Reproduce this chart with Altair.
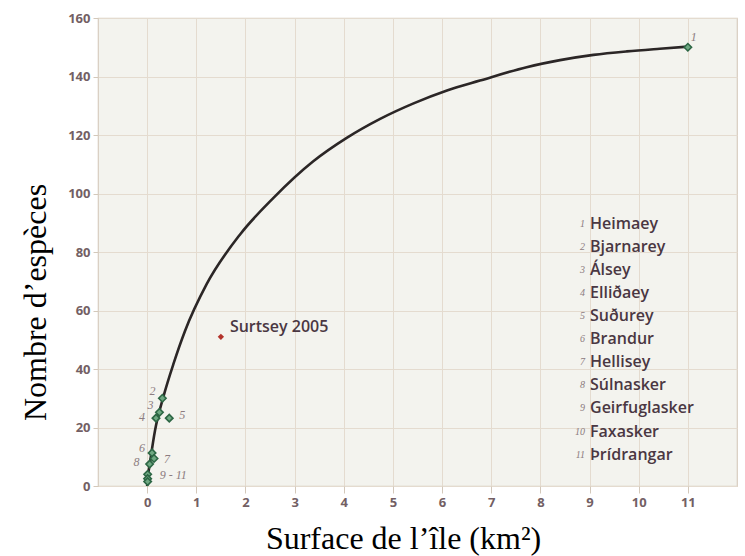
import altair as alt
import pandas as pd

# ---- data ----
island_num = [1, 2, 3, 4, 5, 6, 7, 8, 9, 10, 11]
island_names = ["Heimaey", "Bjarnarey", "Álsey", "Elliðaey", "Suðurey", "Brandur",
                "Hellisey", "Súlnasker", "Geirfuglasker", "Faxasker", "Þrídrangar"]
island_area = [11.0, 0.31, 0.25, 0.18, 0.45, 0.10, 0.14, 0.05, 0.01, 0.01, 0.01]
island_species = [150, 30, 25.2, 23.2, 23.2, 11.3, 9.4, 7.5, 4.0, 2.5, 1.5]

curve_x = [0, 0.01, 0.075, 0.16, 0.33, 0.54, 0.77, 1.21, 1.89, 2.57, 3.38,
           4.06, 4.74, 5.42, 6.1, 6.77, 7.72, 8.4, 9.08, 9.76, 10.43, 11.0]
curve_y = [0, 2, 10, 19, 30.5, 42, 53, 69, 86, 98.5, 111,
           119, 125.5, 130.8, 135.2, 138.6, 143.2, 145.6, 147.4, 148.6, 149.5, 150.2]

surtsey_area = [1.5]
surtsey_species = [51]
surtsey_label = ["Surtsey 2005"]

point_label_text = ["1", "2", "3", "4", "5", "6", "7", "8", "9 - 11"]

x_ticks = list(range(0, 12))
y_ticks = list(range(0, 161, 20))

# ---- styling ----
W, H = 639, 468
xs = alt.Scale(domain=[-1, 12], nice=False, zero=False)
ys = alt.Scale(domain=[0, 160], nice=False, zero=False)
label_color = "#735f64"
text_color = "#4a3742"
sans = "Open Sans"

islands = pd.DataFrame({"num": island_num, "name": island_names,
                        "area": island_area, "species": island_species})
curve = pd.DataFrame({"area": curve_x, "species": curve_y})
surtsey = pd.DataFrame({"area": surtsey_area, "species": surtsey_species,
                        "label": surtsey_label})

X = alt.X("area:Q", scale=xs, title="Surface de l’île (km²)",
          axis=alt.Axis(values=x_ticks, grid=True, domain=False, tickSize=7,
                        labelPadding=3, titleX=305, titleY=52,
                        titleAlign="center", titleBaseline="middle"))
Y = alt.Y("species:Q", scale=ys, title="Nombre d’espèces",
          axis=alt.Axis(values=y_ticks, grid=True, domain=False, tickSize=5,
                        labelPadding=3, titleX=-63, titleY=284, titleAngle=-90,
                        titleAlign="center", titleBaseline="middle"))

line = alt.Chart(curve).mark_line(color="#2b2626", strokeWidth=2.6,
                                  interpolate="monotone").encode(x=X, y=Y)

pts = alt.Chart(islands).mark_point(shape="diamond", filled=True, size=55,
                                    fill="#6fa882", stroke="#2c6644",
                                    strokeWidth=1.6, opacity=1).encode(
    x=alt.X("area:Q", scale=xs), y=alt.Y("species:Q", scale=ys))

sur_pt = alt.Chart(surtsey).mark_point(shape="diamond", filled=True, size=40,
                                       color="#b3332b", opacity=1).encode(
    x=alt.X("area:Q", scale=xs), y=alt.Y("species:Q", scale=ys))
sur_txt = alt.Chart(surtsey).mark_text(align="left", baseline="middle", dx=9, dy=-10,
                                       font=sans, fontSize=16, fontWeight=600,
                                       color=text_color).encode(
    x=alt.X("area:Q", scale=xs), y=alt.Y("species:Q", scale=ys), text="label:N")

# small number labels next to the points
offsets = [(6, -10, "center"), (-10, -7, "center"), (-9, -7, "center"), (-14, -1, "center"),
           (13, -3, "center"), (-10, -5, "center"), (13, 0, "center"), (-13, -2, "center"),
           (12, 1, "left")]
num_layers = []
for i, txt in enumerate(point_label_text):
    dx, dy, al = offsets[i]
    d = pd.DataFrame({"area": [island_area[i]], "species": [island_species[i]], "t": [txt]})
    num_layers.append(
        alt.Chart(d).mark_text(dx=dx, dy=dy, align=al, baseline="middle",
                               font="Liberation Serif", fontStyle="italic",
                               fontSize=12, color="#8c7c80").encode(
            x=alt.X("area:Q", scale=xs), y=alt.Y("species:Q", scale=ys), text="t:N"))

# legend list (placed in data coordinates computed from the row index)
leg = pd.DataFrame({"num": [str(n) for n in island_num], "name": island_names})
leg["ly"] = [89.7 - 7.9 * i for i in range(len(leg))]
leg["nx"] = 8.91
leg["tx"] = 9.01
leg_num = alt.Chart(leg).mark_text(align="right", baseline="middle",
                                   font="Liberation Serif", fontStyle="italic",
                                   fontSize=10, color="#8c7c80").encode(
    x=alt.X("nx:Q", scale=xs), y=alt.Y("ly:Q", scale=ys), text="num:N")
leg_name = alt.Chart(leg).mark_text(align="left", baseline="middle", font=sans,
                                    fontSize=16, fontWeight=600, color=text_color).encode(
    x=alt.X("tx:Q", scale=xs), y=alt.Y("ly:Q", scale=ys), text="name:N")

chart = alt.layer(line, pts, sur_pt, sur_txt, *num_layers, leg_num, leg_name).properties(
    width=W, height=H, autosize="none",
    padding={"left": 98, "top": 18, "right": 8, "bottom": 70},
    background="white",
).configure_view(
    fill="#f3f3ee", stroke="#d8cdbf", strokeWidth=1.2
).configure_axis(
    gridColor="#e4dbcf", gridWidth=1, tickColor="#d3c8ba",
    labelFont=sans, labelFontSize=13, labelFontWeight="bold", labelColor=label_color,
    titleFont="Liberation Serif", titleFontSize=32, titleFontWeight="normal",
    titleColor="black",
)

chart.save("out.html", embed_options={"renderer": "svg", "actions": False})
